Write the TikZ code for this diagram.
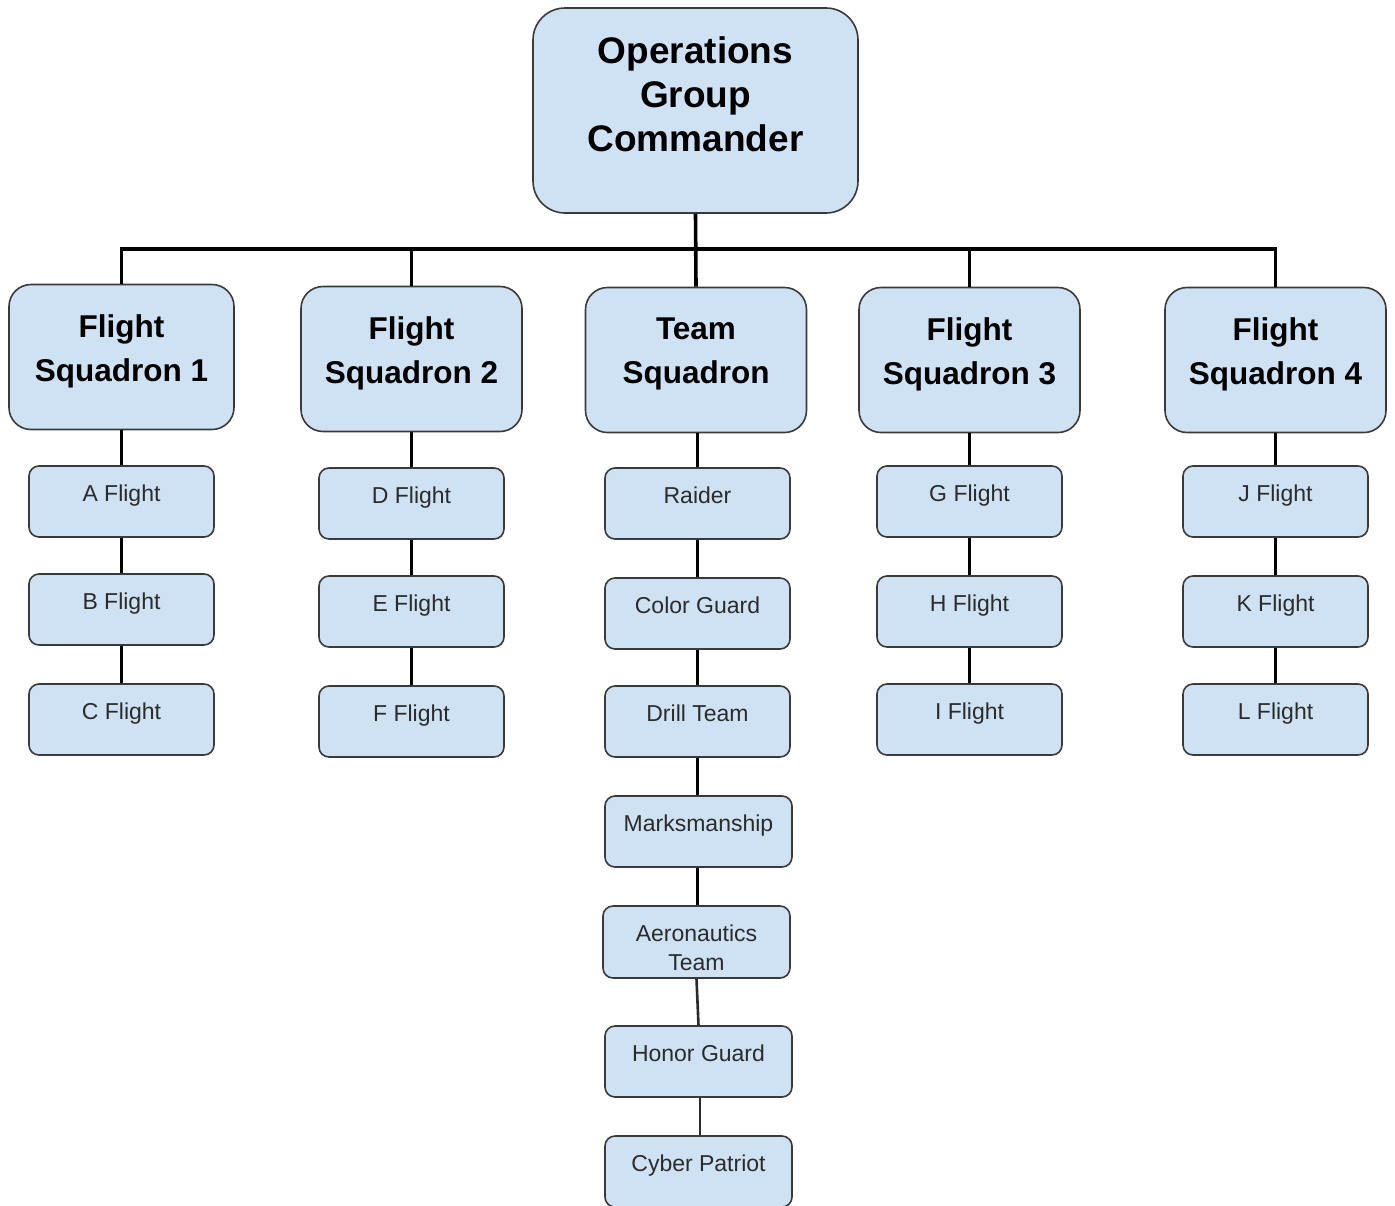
\documentclass[tikz,border=0pt]{standalone}
\usepackage{fontspec}
\setmainfont{Liberation Sans}
\definecolor{boxfill}{HTML}{CFE2F3}
\definecolor{boxline}{HTML}{3A3A3A}
\definecolor{unitink}{HTML}{2B2B2B}
\definecolor{thinink}{HTML}{2A2A2A}
\begin{document}
\begin{tikzpicture}[x=1pt,y=-1pt,
  box/.style={draw=boxline, fill=boxfill, line width=1.6pt, inner sep=0pt},
  topbox/.style={box, rounded corners=32pt, minimum width=325pt, minimum height=205pt},
  sqbox/.style={box, rounded corners=22pt, minimum width=221pt, minimum height=145pt},
  unitbox/.style={box, rounded corners=10pt, minimum width=185pt,
    text height=35pt, text depth=36pt, font=\fontsize{23}{29}\selectfont, text=unitink},
  twoline/.style={box, rounded corners=10pt, minimum width=187pt, minimum height=72pt},
  unittext/.style={inner sep=0pt, align=center, font=\fontsize{23}{29}\selectfont, text=unitink},
  bigtext/.style={inner sep=0pt, align=center, font=\bfseries\fontsize{37}{44}\selectfont},
  sqtext/.style={inner sep=0pt, align=center, font=\bfseries\fontsize{31.5}{44}\selectfont},
  link/.style={line width=3.6pt, black},
  thinlink/.style={line width=2.6pt, draw=thinink},
]
\useasboundingbox (0,0) rectangle (1395,1205);

% command level
\node[topbox] (ogc) at (695.5,110.5) {};
\node[bigtext, yshift=16.5pt] (ogct) at (ogc.center) {Operations\\Group\\Commander};

% squadrons
\node[sqbox, minimum width=225pt] (fs1) at (121.5,357) {};
\node[sqbox] (fs2) at (411.5,359) {};
\node[sqbox] (team) at (696,360) {};
\node[sqbox] (fs3) at (969.5,360) {};
\node[sqbox] (fs4) at (1275.5,360) {};
\node[sqtext, yshift=5.7pt] (fs1t) at (fs1.center) {Flight\\Squadron 1};
\node[sqtext, yshift=5.7pt] (fs2t) at (fs2.center) {Flight\\Squadron 2};
\node[sqtext, yshift=5.7pt] (teamt) at (team.center) {Team\\Squadron};
\node[sqtext, yshift=5.7pt] (fs3t) at (fs3.center) {Flight\\Squadron 3};
\node[sqtext, yshift=5.7pt] (fs4t) at (fs4.center) {Flight\\Squadron 4};

% flights under squadron 1
\node[unitbox] (fa) at (121.5,501.5) {A Flight};
\node[unitbox] (fb) at (121.5,609.5) {B Flight};
\node[unitbox] (fc) at (121.5,719.5) {C Flight};
% flights under squadron 2
\node[unitbox] (fd) at (411.5,503.5) {D Flight};
\node[unitbox] (fe) at (411.5,611.5) {E Flight};
\node[unitbox] (ff) at (411.5,721.5) {F Flight};
% teams
\node[unitbox] (raider) at (697.5,503.5) {Raider};
\node[unitbox] (color) at (697.5,613.5) {Color Guard};
\node[unitbox] (drill) at (697.5,721.5) {Drill Team};
\node[unitbox, minimum width=187pt] (marks) at (698.5,831.5) {Marksmanship};
\node[twoline] (aero) at (696.5,942) {};
\node[unittext, yshift=-5.5pt] (aerot) at (aero.center) {Aeronautics\\Team};
\node[unitbox, minimum width=187pt] (honor) at (698.5,1061.5) {Honor Guard};
\node[unitbox, minimum width=187pt] (cyber) at (698.5,1171.5) {Cyber Patriot};
% flights under squadron 3
\node[unitbox] (fg) at (969.5,501.5) {G Flight};
\node[unitbox] (fh) at (969.5,611.5) {H Flight};
\node[unitbox] (fi) at (969.5,719.5) {I Flight};
% flights under squadron 4
\node[unitbox] (fj) at (1275.5,501.5) {J Flight};
\node[unitbox] (fk) at (1275.5,611.5) {K Flight};
\node[unitbox] (fl) at (1275.5,719.5) {L Flight};

% connectors
\coordinate (bar) at (696,249);
\draw[link] (ogc.south) -- (team.north);
\draw[link] (fs1.north) -- (fs1.north |- bar) -- (fs4.north |- bar) -- (fs4.north);
\draw[link] (fs2.north) -- (fs2.north |- bar);
\draw[link] (fs3.north) -- (fs3.north |- bar);

\draw[link] (fs1.south) -- (fa.north);
\draw[link] (fa.south) -- (fb.north);
\draw[link] (fb.south) -- (fc.north);
\draw[link] (fs2.south) -- (fd.north);
\draw[link] (fd.south) -- (fe.north);
\draw[link] (fe.south) -- (ff.north);
\draw[link] (raider.north |- team.south) -- (raider.north);
\draw[link] (raider.south) -- (color.north);
\draw[link] (color.south) -- (drill.north);
\draw[link] (drill.south) -- (drill.south |- marks.north);
\draw[link] (drill.south |- marks.south) -- (drill.south |- aero.north);
\draw[thinlink] (aero.south) -- (honor.north);
\draw[thinlink] ([xshift=1.5pt]honor.south) -- ([xshift=1.5pt]cyber.north);
\draw[link] (fs3.south) -- (fg.north);
\draw[link] (fg.south) -- (fh.north);
\draw[link] (fh.south) -- (fi.north);
\draw[link] (fs4.south) -- (fj.north);
\draw[link] (fj.south) -- (fk.north);
\draw[link] (fk.south) -- (fl.north);
\end{tikzpicture}
\end{document}
